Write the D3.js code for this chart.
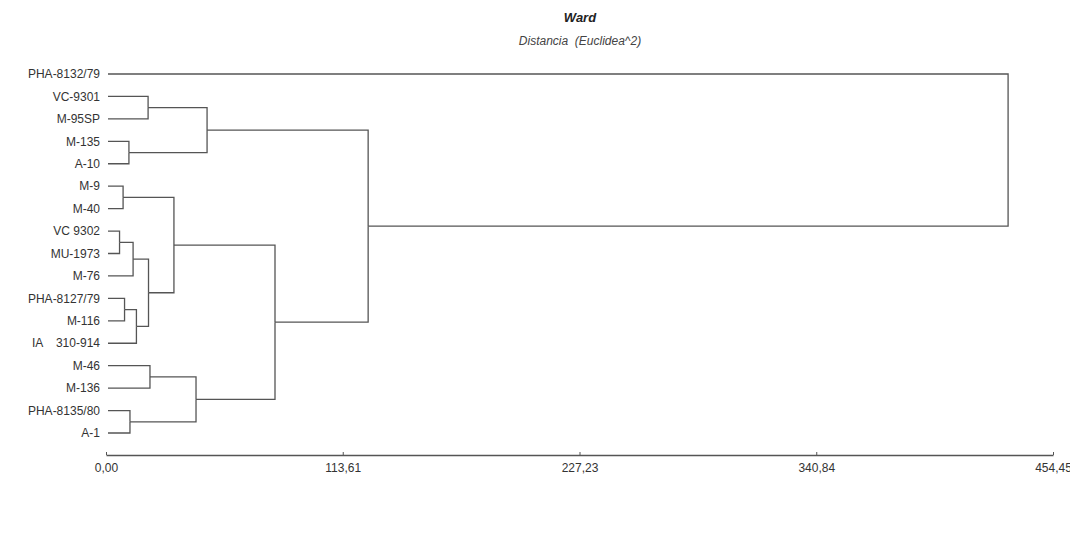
<!DOCTYPE html>
<html>
<head>
<meta charset="utf-8">
<script src="https://cdn.jsdelivr.net/npm/d3@7"></script>
<style>
  body { margin: 0; background: #fff; }
  text { font-family: "Liberation Sans", Arial, sans-serif; }
</style>
</head>
<body>
<script>
const width = 1070, height = 537;

// leaf order, top to bottom
const leaves = ["PHA-8132/79", "VC-9301", "M-95SP", "M-135", "A-10", "M-9", "M-40",
  "VC 9302", "MU-1973", "M-76", "PHA-8127/79", "M-116", "IA    310-914",
  "M-46", "M-136", "PHA-8135/80", "A-1"];

// [node id, first child, second child, distance]
const merges = [
  ["n1", "VC-9301", "M-95SP", 20.2],
  ["n2", "M-135", "A-10", 11.0],
  ["n3", "n1", "n2", 48.5],
  ["n4", "M-9", "M-40", 8.2],
  ["n5", "VC 9302", "MU-1973", 6.5],
  ["n6", "n5", "M-76", 13.0],
  ["n7", "PHA-8127/79", "M-116", 8.9],
  ["n8", "n7", "IA    310-914", 14.6],
  ["n9", "n6", "n8", 20.4],
  ["n10", "n4", "n9", 32.6],
  ["n11", "M-46", "M-136", 21.1],
  ["n12", "PHA-8135/80", "A-1", 11.5],
  ["n13", "n11", "n12", 43.2],
  ["n14", "n10", "n13", 81.1],
  ["n15", "n3", "n14", 125.8],
  ["root", "PHA-8132/79", "n15", 432.9]
];

const tickVals = [0, 113.61, 227.23, 340.84, 454.45];

const x = d3.scaleLinear().domain([0, 454.45]).range([106, 1053]);
const y = d3.scalePoint().domain(leaves).range([74, 433]);

// build nested tree
const nodes = new Map(leaves.map(n => [n, {name: n, h: 0}]));
merges.forEach(([id, a, b, h]) => nodes.set(id, {name: id, h, children: [nodes.get(a), nodes.get(b)]}));
const root = d3.hierarchy(nodes.get("root"));

root.eachAfter(d => {
  d.px = x(d.data.h);
  d.py = d.children ? d3.mean(d.children, c => c.py) : y(d.data.name);
});

const svg = d3.select("body").append("svg")
    .attr("width", width)
    .attr("height", height);

svg.append("text")
    .attr("x", 580).attr("y", 22)
    .attr("text-anchor", "middle")
    .attr("font-size", 13)
    .attr("font-weight", "bold")
    .attr("font-style", "italic")
    .attr("fill", "#222")
    .text("Ward");

svg.append("text")
    .attr("x", 580).attr("y", 45)
    .attr("text-anchor", "middle")
    .attr("font-size", 12)
    .attr("font-style", "italic")
    .attr("fill", "#444")
    .style("white-space", "pre")
    .text("Distancia  (Euclidea^2)");

// elbow links
svg.append("g")
    .attr("fill", "none")
    .attr("stroke", "#555")
    .attr("stroke-width", 1.3)
  .selectAll("path")
  .data(root.links())
  .join("path")
    .attr("d", d => {
      const sx = d.target.children ? d.target.px : x(0) + 2;
      return `M${sx},${d.target.py}H${d.source.px}V${d.source.py}`;
    });

svg.append("g")
    .attr("font-size", 12)
    .attr("fill", "#333")
    .attr("text-anchor", "end")
  .selectAll("text")
  .data(root.leaves())
  .join("text")
    .attr("x", 100)
    .attr("y", d => d.py)
    .attr("dy", "0.35em")
    .style("white-space", "pre")
    .text(d => d.data.name);

const axis = d3.axisBottom(x)
    .tickValues(tickVals)
    .tickSizeInner(-3)
    .tickSizeOuter(0)
    .tickPadding(8)
    .tickFormat(d => d3.format(".2f")(d).replace(".", ","));

const ax = svg.append("g")
    .attr("transform", "translate(0,455)")
    .call(axis);
ax.select(".domain").attr("stroke", "#555").attr("stroke-width", 1.3);
ax.selectAll(".tick line").attr("stroke", "#555");
ax.selectAll(".tick text")
    .attr("font-size", 12)
    .attr("fill", "#333")
    .attr("font-family", "Liberation Sans, Arial, sans-serif");
</script>
</body>
</html>
